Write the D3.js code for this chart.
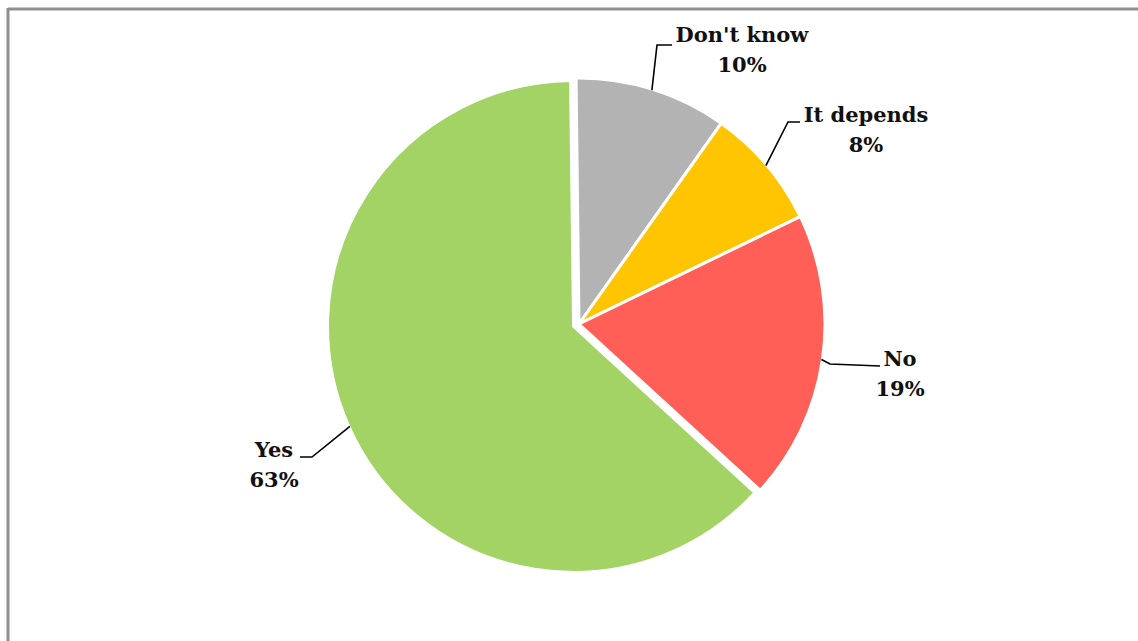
<!DOCTYPE html>
<html>
<head>
<meta charset="utf-8">
<script src="https://cdn.jsdelivr.net/npm/d3@7"></script>
<style>
  html, body { margin: 0; padding: 0; background: #ffffff; }
  svg { display: block; }
  .lbl { font-family: "DejaVu Serif", serif; font-weight: bold; font-size: 21px; fill: #111; }
</style>
</head>
<body>
<svg id="chart" width="1138" height="641"></svg>
<script>
// Survey answers, clockwise from 12 o'clock
const categories = ["Don't know", "It depends", "No", "Yes"];
const shares = [10, 8, 19, 63];
const valueLabels = ["10%", "8%", "19%", "63%"];
const colors = ["#b3b3b3", "#ffc503", "#ff5f57", "#a3d365"];

// Label placement: text centre x, first baseline y, leader elbow and end
const labelLayout = [
  { tx: 742, ty: 42,  elbow: [657, 45],  end: [672, 45] },
  { tx: 866, ty: 122, elbow: [788, 122], end: [800, 122] },
  { tx: 900, ty: 366, elbow: [830, 364], end: [880, 366] },
  { tx: 274, ty: 457, elbow: [312, 457], end: [300, 457] }
];

const svg = d3.select("#chart");
const W = 1138, H = 641;

// Frame lines along the left and top edges
svg.append("line").attr("x1", 8).attr("y1", 9).attr("x2", W).attr("y2", 9)
  .attr("stroke", "#8f8f8f").attr("stroke-width", 3);
svg.append("line").attr("x1", 8).attr("y1", 8).attr("x2", 8).attr("y2", H)
  .attr("stroke", "#8f8f8f").attr("stroke-width", 3);

const cx = 579, cy = 324, R = 246;
const explode = [0, 0, 0, 6];
const rot = -0.012;

const pie = d3.pie().sort(null).value(d => d)
  .startAngle(rot).endAngle(2 * Math.PI + rot)(shares);
const arc = d3.arc().innerRadius(0).outerRadius(R);

const g = svg.append("g").attr("transform", `translate(${cx},${cy})`);

const slices = g.selectAll("g.slice").data(pie).join("g")
  .attr("class", "slice")
  .attr("transform", (d, i) => {
    const a = (d.startAngle + d.endAngle) / 2;
    return `translate(${Math.sin(a) * explode[i]},${-Math.cos(a) * explode[i]})`;
  });

slices.append("path")
  .attr("d", arc)
  .attr("fill", (d, i) => colors[i])
  .attr("stroke", "#ffffff")
  .attr("stroke-width", 3)
  .attr("stroke-linejoin", "miter");

// Leader lines from each slice rim to its label
pie.forEach((d, i) => {
  const a = (d.startAngle + d.endAngle) / 2;
  const off = explode[i];
  const sx = cx + Math.sin(a) * (R + off - 1);
  const sy = cy - Math.cos(a) * (R + off - 1);
  const L = labelLayout[i];
  svg.append("polyline")
    .attr("points", [[sx, sy], L.elbow, L.end].map(p => p.join(",")).join(" "))
    .attr("fill", "none")
    .attr("stroke", "#000")
    .attr("stroke-width", 1.6);

  const t = svg.append("text").attr("class", "lbl")
    .attr("text-anchor", "middle");
  t.append("tspan").attr("x", L.tx).attr("y", L.ty).text(categories[i]);
  t.append("tspan").attr("x", L.tx).attr("y", L.ty + 30).text(valueLabels[i]);
});
</script>
</body>
</html>
